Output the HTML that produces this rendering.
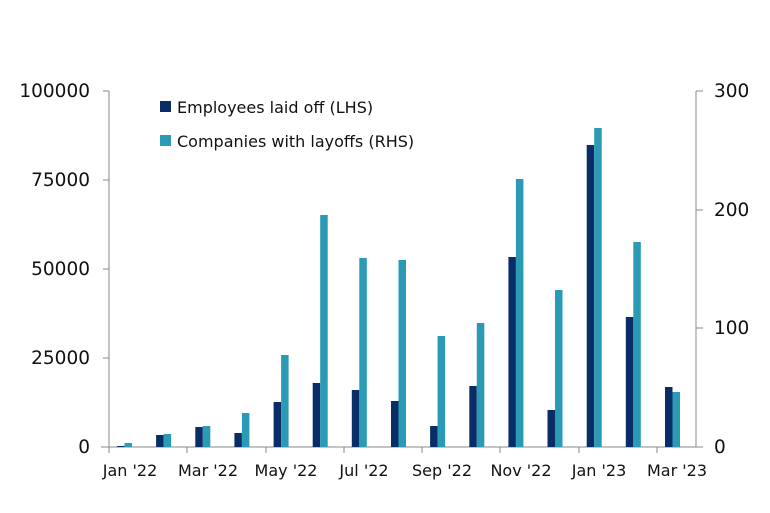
<!DOCTYPE html>
<html><head><meta charset="utf-8"><style>
html,body{margin:0;padding:0;background:#fff;}
svg{display:block;font-family:"DejaVu Sans","Liberation Sans",sans-serif;}
</style></head><body>
<svg width="770" height="513" viewBox="0 0 770 513">
<g stroke="#888" stroke-width="1" fill="none">
<line x1="109" y1="91" x2="109" y2="447"/>
<line x1="103" y1="91" x2="109" y2="91"/>
<line x1="103" y1="180" x2="109" y2="180"/>
<line x1="103" y1="269" x2="109" y2="269"/>
<line x1="103" y1="358" x2="109" y2="358"/>
<line x1="696" y1="91" x2="696" y2="447"/>
<line x1="696" y1="91" x2="703" y2="91"/>
<line x1="696" y1="210" x2="703" y2="210"/>
<line x1="696" y1="328" x2="703" y2="328"/>
<line x1="101" y1="447" x2="703" y2="447"/>
<line x1="109" y1="447" x2="109" y2="453"/>
<line x1="187" y1="447" x2="187" y2="453"/>
<line x1="266" y1="447" x2="266" y2="453"/>
<line x1="344" y1="447" x2="344" y2="453"/>
<line x1="422" y1="447" x2="422" y2="453"/>
<line x1="500" y1="447" x2="500" y2="453"/>
<line x1="579" y1="447" x2="579" y2="453"/>
<line x1="657" y1="447" x2="657" y2="453"/>
</g>
<g font-size="18.5" fill="#111" text-anchor="end">
<text x="90" y="97">100000</text>
<text x="90" y="186">75000</text>
<text x="90" y="275">50000</text>
<text x="90" y="364">25000</text>
<text x="90" y="453">0</text>
</g>
<g font-size="18.5" fill="#111" text-anchor="start">
<text x="714" y="97">300</text>
<text x="714" y="216">200</text>
<text x="714" y="334">100</text>
<text x="714" y="453">0</text>
</g>
<g font-size="16" fill="#111" text-anchor="middle">
<text x="130" y="476">Jan '22</text>
<text x="208" y="476">Mar '22</text>
<text x="286" y="476">May '22</text>
<text x="364" y="476">Jul '22</text>
<text x="442" y="476">Sep '22</text>
<text x="521" y="476">Nov '22</text>
<text x="599" y="476">Jan '23</text>
<text x="677" y="476">Mar '23</text>
</g>
<g fill="#0b2d67">
<rect x="117" y="446" width="7.5" height="1"/>
<rect x="156.1" y="435" width="7.5" height="12"/>
<rect x="195.3" y="427" width="7.5" height="20"/>
<rect x="234.4" y="433" width="7.5" height="14"/>
<rect x="273.6" y="402" width="7.5" height="45"/>
<rect x="312.7" y="383" width="7.5" height="64"/>
<rect x="351.8" y="390" width="7.5" height="57"/>
<rect x="391" y="401" width="7.5" height="46"/>
<rect x="430.1" y="426" width="7.5" height="21"/>
<rect x="469.3" y="386" width="7.5" height="61"/>
<rect x="508.4" y="257" width="7.5" height="190"/>
<rect x="547.5" y="410" width="7.5" height="37"/>
<rect x="586.7" y="145" width="7.5" height="302"/>
<rect x="625.8" y="317" width="7.5" height="130"/>
<rect x="665" y="387" width="7.5" height="60"/>
</g>
<g fill="#2b9ab5">
<rect x="124.5" y="443" width="7.5" height="4"/>
<rect x="163.6" y="434" width="7.5" height="13"/>
<rect x="202.8" y="426" width="7.5" height="21"/>
<rect x="241.9" y="413" width="7.5" height="34"/>
<rect x="281.1" y="355" width="7.5" height="92"/>
<rect x="320.2" y="215" width="7.5" height="232"/>
<rect x="359.3" y="258" width="7.5" height="189"/>
<rect x="398.5" y="260" width="7.5" height="187"/>
<rect x="437.6" y="336" width="7.5" height="111"/>
<rect x="476.8" y="323" width="7.5" height="124"/>
<rect x="515.9" y="179" width="7.5" height="268"/>
<rect x="555" y="290" width="7.5" height="157"/>
<rect x="594.2" y="128" width="7.5" height="319"/>
<rect x="633.3" y="242" width="7.5" height="205"/>
<rect x="672.5" y="392" width="7.5" height="55"/>
</g>
<rect x="160" y="101" width="11" height="11" fill="#0b2d67"/>
<text x="177" y="113" font-size="16" fill="#111">Employees laid off (LHS)</text>
<rect x="160" y="135" width="11" height="11" fill="#2b9ab5"/>
<text x="177" y="147" font-size="16" fill="#111">Companies with layoffs (RHS)</text>
</svg>
</body></html>
